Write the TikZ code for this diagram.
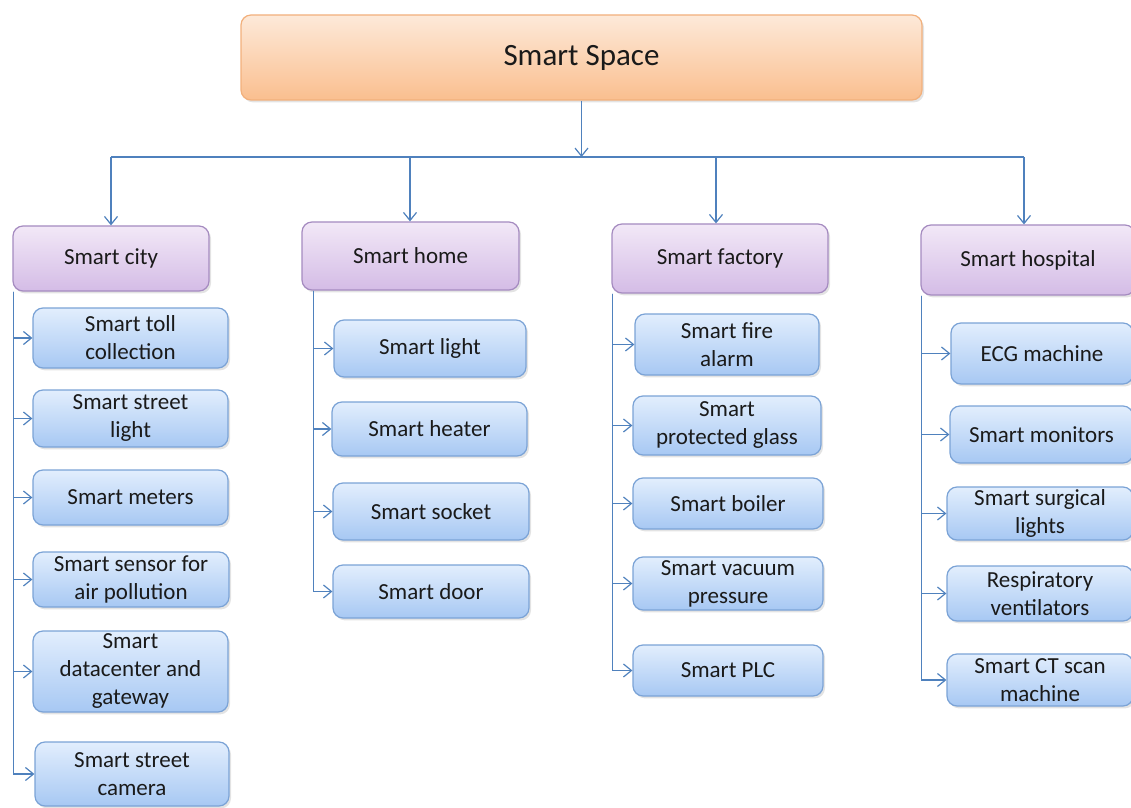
\documentclass[tikz,border=0pt]{standalone}
\usepackage{fontspec}
\setmainfont{Carlito}
\usetikzlibrary{arrows.meta,shadows}
\definecolor{linec}{HTML}{4F81BD}
\definecolor{txt}{HTML}{1A1A1A}
\definecolor{topA}{HTML}{FDE9D9}
\definecolor{topB}{HTML}{FABF8F}
\definecolor{topD}{HTML}{F2B07C}
\definecolor{catA}{HTML}{F2E8F7}
\definecolor{catB}{HTML}{D4BCE6}
\definecolor{catD}{HTML}{A58BC0}
\definecolor{leafA}{HTML}{E2EEFD}
\definecolor{leafB}{HTML}{A7C8F3}
\definecolor{leafD}{HTML}{7BA3D6}
\tikzset{
  basebox/.style={rectangle, rounded corners=5pt, align=center, text=txt,
    line width=0.6pt, inner sep=1pt,
    drop shadow={opacity=0.22, shadow xshift=1pt, shadow yshift=-1.2pt},
    font=\fontsize{11.5}{14}\selectfont},
  topbox/.style={basebox, draw=topD, top color=topA, bottom color=topB,
    font=\fontsize{15.5}{18}\selectfont},
  catbox/.style={basebox, draw=catD, top color=catA, bottom color=catB},
  leafbox/.style={basebox, draw=leafD, top color=leafA, bottom color=leafB},
  conn/.style={draw=linec, line width=0.6pt},
  arr/.style={conn, -{Straight Barb[length=4pt,width=6.5pt,line width=0.6pt]}},
}
\begin{document}
\begin{tikzpicture}[x=0.5pt,y=-0.5pt]
\useasboundingbox (0,0) rectangle (1131,808);
% top
\node[topbox, minimum width=340.5pt, minimum height=42.5pt] (top) at (581.5,57.5) {Smart Space};
% categories
\node[catbox, minimum width=98pt, minimum height=32.5pt] (city) at (111,258.5) {Smart city};
\node[catbox, minimum width=108.5pt, minimum height=34pt] (home) at (410.5,256) {Smart home};
\node[catbox, minimum width=108pt, minimum height=34.5pt] (fact) at (720,258.5) {Smart factory};
\node[catbox, minimum width=107pt, minimum height=35pt] (hosp) at (1028,260) {Smart hospital};
% bus coordinates
\coordinate (b1) at (111,157);
\coordinate (b2) at (410,157);
\coordinate (b3) at (716,157);
\coordinate (b4) at (1024,157);
% city leaves
\node[leafbox, minimum width=97.5pt, minimum height=30pt] (c1) at (130.5,338) {Smart toll\\collection};
\node[leafbox, minimum width=97.5pt, minimum height=28.5pt] (c2) at (130.5,418.5) {Smart street\\light};
\node[leafbox, minimum width=97.5pt, minimum height=27.5pt] (c3) at (130.5,497.5) {Smart meters};
\node[leafbox, minimum width=98pt, minimum height=27.5pt] (c4) at (131,579.5) {Smart sensor for\\air pollution};
\node[leafbox, minimum width=97.5pt, minimum height=40.5pt] (c5) at (130.5,671.5) {Smart\\datacenter and\\gateway};
\node[leafbox, minimum width=97pt, minimum height=32pt] (c6) at (132,774) {Smart street\\camera};
% home leaves
\node[leafbox, minimum width=96pt, minimum height=28.5pt] (h1) at (430,348.5) {Smart light};
\node[leafbox, minimum width=97.5pt, minimum height=27pt] (h2) at (429.5,429) {Smart heater};
\node[leafbox, minimum width=98pt, minimum height=28.5pt] (h3) at (431,511.5) {Smart socket};
\node[leafbox, minimum width=98pt, minimum height=26.5pt] (h4) at (431,591.5) {Smart door};
% factory leaves
\node[leafbox, minimum width=92pt, minimum height=30.5pt] (f1) at (727,344.5) {Smart fire\\alarm};
\node[leafbox, minimum width=94pt, minimum height=29.5pt] (f2) at (727,425.5) {Smart\\protected glass};
\node[leafbox, minimum width=95pt, minimum height=25.5pt] (f3) at (728,503.5) {Smart boiler};
\node[leafbox, minimum width=95pt, minimum height=26.5pt] (f4) at (728,583.5) {Smart vacuum\\pressure};
\node[leafbox, minimum width=95pt, minimum height=25.5pt] (f5) at (728,670.5) {Smart PLC};
% hospital leaves
\node[leafbox, minimum width=91pt, minimum height=30.5pt] (p1) at (1042,353.5) {ECG machine};
\node[leafbox, minimum width=91.5pt, minimum height=28.5pt] (p2) at (1041.5,434.5) {Smart monitors};
\node[leafbox, minimum width=93pt, minimum height=26.5pt] (p3) at (1040,513.5) {Smart surgical\\lights};
\node[leafbox, minimum width=93pt, minimum height=27.5pt] (p4) at (1040,593.5) {Respiratory\\ventilators};
\node[leafbox, minimum width=93pt, minimum height=26pt] (p5) at (1040,680) {Smart CT scan\\machine};
% top connectors
\draw[arr] (top.south) -- (top.south |- b1);
\draw[conn] (b1) -- (b4);
\draw[arr] (b1) -- (b1 |- city.north);
\draw[arr] (b2) -- (b2 |- home.north);
\draw[arr] (b3) -- (b3 |- fact.north);
\draw[arr] (b4) -- (b4 |- hosp.north);
% trunks
\coordinate (tc) at ([xshift=0.5pt]city.south west);
\coordinate (th) at ([xshift=6pt]home.south west);
\coordinate (tf) at ([xshift=0.5pt]fact.south west);
\coordinate (tp) at ([xshift=0.5pt]hosp.south west);
\foreach \n in {c1,c2,c3,c4,c5,c6} \draw[arr] (tc) |- (\n.west);
\foreach \n in {h1,h2,h3,h4} \draw[arr] (th) |- (\n.west);
\foreach \n in {f1,f2,f3,f4,f5} \draw[arr] (tf) |- (\n.west);
\foreach \n in {p1,p2,p3,p4,p5} \draw[arr] (tp) |- (\n.west);
\end{tikzpicture}
\end{document}
